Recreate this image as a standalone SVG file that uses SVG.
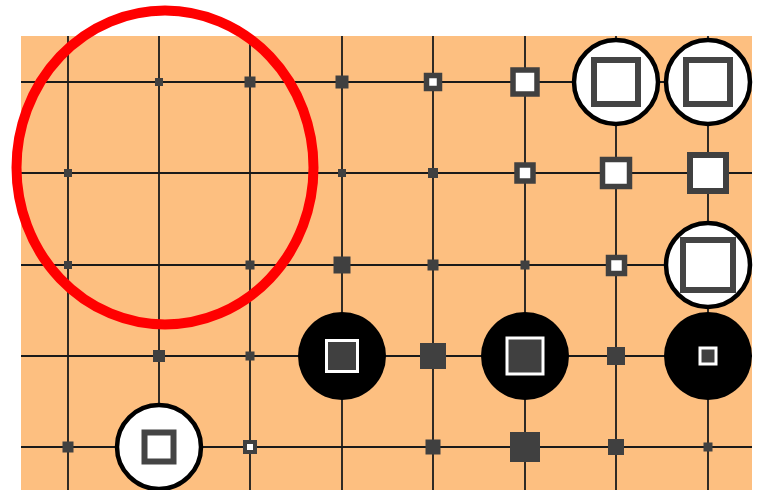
<svg xmlns="http://www.w3.org/2000/svg" width="758" height="490" viewBox="0 0 758 490">
<style>
.grid line{stroke:#1a1a1a;stroke-width:1.8}
.m{fill:#404040}
.h{fill:#fff;stroke:#404040}
.ws{fill:#fff;stroke:#000;stroke-width:4.5}
.bs{fill:#000}
.wsq{fill:none;stroke:#444;stroke-width:6}
.bsq{fill:#404040;stroke:#fff;stroke-width:3}
</style>
<rect x="0" y="0" width="758" height="490" fill="#fff"/>
<rect x="21" y="36" width="731" height="454" fill="#FDBF80"/>
<g id="grid" class="grid">
<line x1="68" y1="36" x2="68" y2="490"/>
<line x1="159" y1="36" x2="159" y2="490"/>
<line x1="250" y1="36" x2="250" y2="490"/>
<line x1="342" y1="36" x2="342" y2="490"/>
<line x1="433" y1="36" x2="433" y2="490"/>
<line x1="525" y1="36" x2="525" y2="490"/>
<line x1="616" y1="36" x2="616" y2="490"/>
<line x1="708" y1="36" x2="708" y2="490"/>
<line x1="21" y1="82" x2="752" y2="82"/>
<line x1="21" y1="173" x2="752" y2="173"/>
<line x1="21" y1="265" x2="752" y2="265"/>
<line x1="21" y1="356" x2="752" y2="356"/>
<line x1="21" y1="447" x2="752" y2="447"/>
</g>
<g id="markers">
<rect class="m" x="155" y="78" width="8" height="8"/>
<rect class="m" x="244.5" y="76.5" width="11" height="11"/>
<rect class="m" x="335.5" y="75.5" width="13" height="13"/>
<rect class="h" x="426.5" y="75.5" width="13" height="13" stroke-width="5.5"/>
<rect class="h" x="513" y="70" width="24" height="24" stroke-width="5.5"/>
<rect class="m" x="64" y="169" width="8" height="8"/>
<rect class="m" x="338" y="169" width="8" height="8"/>
<rect class="m" x="428" y="168" width="10" height="10"/>
<rect class="h" x="517" y="165" width="16" height="16" stroke-width="5.5"/>
<rect class="h" x="602.5" y="159.5" width="27" height="27" stroke-width="5.5"/>
<rect class="h" x="690" y="155" width="36" height="36" stroke-width="6"/>
<rect class="m" x="64" y="261" width="8" height="8"/>
<rect class="m" x="245.5" y="260.5" width="9" height="9"/>
<rect class="m" x="333.5" y="256.5" width="17" height="17"/>
<rect class="m" x="427.5" y="259.5" width="11" height="11"/>
<rect class="m" x="520.5" y="260.5" width="9" height="9"/>
<rect class="h" x="608.5" y="257.5" width="16" height="16" stroke-width="5.5"/>
<rect class="m" x="153" y="350" width="12" height="12"/>
<rect class="m" x="245.5" y="351.5" width="9" height="9"/>
<rect class="m" x="420" y="343" width="26" height="26"/>
<rect class="m" x="607" y="347" width="18" height="18"/>
<rect class="m" x="62.5" y="441.5" width="11" height="11"/>
<rect class="h" x="245" y="442" width="10" height="10" stroke-width="4"/>
<rect class="m" x="425.5" y="439.5" width="15" height="15"/>
<rect class="m" x="510" y="432" width="30" height="30"/>
<rect class="m" x="608" y="439" width="16" height="16"/>
<rect class="m" x="703.5" y="442.5" width="9" height="9"/>
</g>
<g id="stone-w-616-82"><circle class="ws" cx="616" cy="82" r="42"/><rect class="wsq" x="594" y="60" width="44" height="44"/></g>
<g id="stone-w-708-82"><circle class="ws" cx="708" cy="82" r="42"/><rect class="wsq" x="686" y="60" width="44" height="44"/></g>
<g id="stone-w-708-265"><circle class="ws" cx="708" cy="265" r="42"/><rect class="wsq" x="683" y="240" width="50" height="50"/></g>
<g id="stone-w-159-447"><circle class="ws" cx="159" cy="447" r="42"/><rect class="wsq" x="144.5" y="432.5" width="29" height="29"/></g>
<g id="stone-b-342-356"><circle class="bs" cx="342" cy="356" r="44"/><rect class="bsq" x="326.5" y="340.5" width="31" height="31"/></g>
<g id="stone-b-525-356"><circle class="bs" cx="525" cy="356" r="44"/><rect class="bsq" x="507" y="338" width="36" height="36"/></g>
<g id="stone-b-708-356"><circle class="bs" cx="708" cy="356" r="44"/><rect class="bsq" x="700" y="348" width="16" height="16"/></g>
<ellipse id="red-circle" cx="165" cy="167.5" rx="148.5" ry="157" fill="none" stroke="#ff0000" stroke-width="10"/>
</svg>
